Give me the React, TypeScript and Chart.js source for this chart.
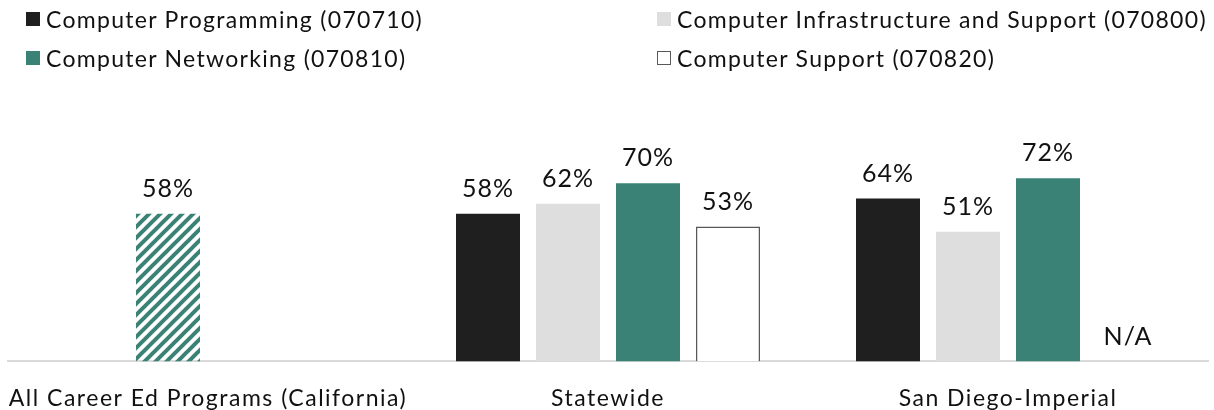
import React, { useEffect, useRef } from "react";
import { Chart, registerables } from "chart.js";

Chart.register(...registerables);

// ---- data ----
const categories = ["All Career Ed Programs (California)", "Statewide", "San Diego-Imperial"];
const seriesNames = [
  "Computer Programming (070710)",
  "Computer Infrastructure and Support (070800)",
  "Computer Networking (070810)",
  "Computer Support (070820)",
];
const allCareerEd: (number | null)[] = [58, null, null];
const programming: (number | null)[] = [null, 58, 64];
const infrastructure: (number | null)[] = [null, 62, 51];
const networking: (number | null)[] = [null, 70, 72];
const support: (number | null)[] = [null, 53, null];
const notAvailable: boolean[][] = [
  [false, false, false],
  [false, false, false],
  [false, false, false],
  [false, false, true],
];

// ---- styles ----
const BLACK = "#1f1f1f";
const GREY = "#dedede";
const TEAL = "#3b8276";
const OUTLINE = "#595959";
const FONT = "Lato, 'Open Sans', sans-serif";
const CANVAS_H = 435;

function makeHatch(): CanvasPattern | string {
  const c = document.createElement("canvas");
  const s = 11;
  c.width = s;
  c.height = s;
  const g = c.getContext("2d");
  if (!g) return TEAL;
  g.strokeStyle = TEAL;
  g.lineWidth = 4;
  g.lineCap = "square";
  g.beginPath();
  g.moveTo(-2, s + 2);
  g.lineTo(s + 2, -2);
  g.moveTo(-2, 2);
  g.lineTo(2, -2);
  g.moveTo(s - 2, s + 2);
  g.lineTo(s + 2, s - 2);
  g.stroke();
  const p = g.createPattern(c, "repeat");
  return p || TEAL;
}

const spacingPlugin = {
  id: "tickSpacing",
  beforeDraw(chart: any) {
    (chart.ctx as any).letterSpacing = "1.5px";
  },
};

const labelPlugin = {
  id: "valueLabels",
  afterDatasetsDraw(chart: any) {
    const ctx = chart.ctx;
    const yScale = chart.scales.y;
    ctx.save();
    (ctx as any).letterSpacing = "1px";
    ctx.font = `25px ${FONT}`;
    ctx.fillStyle = "#111111";
    ctx.textAlign = "center";
    ctx.textBaseline = "alphabetic";
    chart.data.datasets.forEach((ds: any, di: number) => {
      const meta = chart.getDatasetMeta(di);
      meta.data.forEach((bar: any, i: number) => {
        const v = ds.data[i];
        if (v !== null && v !== undefined) {
          ctx.fillText(`${v}%`, bar.x, bar.y - 17);
        } else if (notAvailable[di] && notAvailable[di][i]) {
          ctx.fillText("N/A", bar.x, yScale.getPixelForValue(0) - 16);
        }
      });
    });
    ctx.restore();
  },
};

function Legend() {
  const items = [
    { name: seriesNames[0], left: 26, top: 12, fill: BLACK, border: "none" },
    { name: seriesNames[1], left: 657, top: 12, fill: GREY, border: "none" },
    { name: seriesNames[2], left: 26, top: 51, fill: TEAL, border: "none" },
    { name: seriesNames[3], left: 657, top: 51, fill: "#ffffff", border: `1px solid ${OUTLINE}` },
  ];
  return (
    <>
      {items.map((it) => (
        <div
          key={it.name}
          style={{
            position: "absolute",
            left: it.left,
            top: it.top - 6,
            height: 26,
            display: "flex",
            alignItems: "center",
            fontFamily: FONT,
            fontSize: 23,
            letterSpacing: "1.3px",
            color: "#111",
            whiteSpace: "nowrap",
          }}
        >
          <span
            style={{
              display: "inline-block",
              width: 14,
              height: 14,
              boxSizing: "border-box",
              background: it.fill,
              border: it.border,
              marginRight: 6,
            }}
          />
          <span>{it.name}</span>
        </div>
      ))}
    </>
  );
}

export default function App() {
  const ref = useRef<HTMLCanvasElement | null>(null);
  useEffect(() => {
    document.body.style.margin = "0";
    if (!ref.current) return;
    const hatch = makeHatch();
    const chart = new Chart(ref.current, {
      type: "bar",
      data: {
        labels: categories,
        datasets: [
          { label: seriesNames[0], data: programming, backgroundColor: BLACK },
          {
            label: seriesNames[1],
            data: categories.map((_, i) => allCareerEd[i] ?? infrastructure[i]),
            backgroundColor: categories.map((_, i) => (allCareerEd[i] !== null ? hatch : GREY)) as any,
          },
          { label: seriesNames[2], data: networking, backgroundColor: TEAL },
          {
            label: seriesNames[3],
            data: support,
            backgroundColor: "#ffffff",
            borderColor: OUTLINE,
            borderWidth: 1.5,
          },
        ],
      },
      options: {
        animation: false,
        responsive: false,
        maintainAspectRatio: false,
        layout: { padding: { left: 8, right: 6, top: 107, bottom: 0 } },
        datasets: { bar: { categoryPercentage: 0.8, barPercentage: 0.8 } },
        plugins: { legend: { display: false }, tooltip: { enabled: false } },
        scales: {
          x: {
            grid: { display: false, drawTicks: false },
            border: { display: true, color: "#d9d9d9", width: 2 },
            ticks: {
              color: "#111",
              font: { family: FONT, size: 23 },
              padding: 23,
              maxRotation: 0,
              autoSkip: false,
            },
          },
          y: { display: false, min: 0, max: 100 },
        },
      },
      plugins: [spacingPlugin, labelPlugin],
    });
    return () => chart.destroy();
  }, []);
  return (
    <div style={{ position: "relative", width: 1214, height: 410, overflow: "hidden", background: "#fff" }}>
      <canvas ref={ref} width={1214} height={CANVAS_H} style={{ position: "absolute", left: 0, top: 0 }} />
      <Legend />
    </div>
  );
}
